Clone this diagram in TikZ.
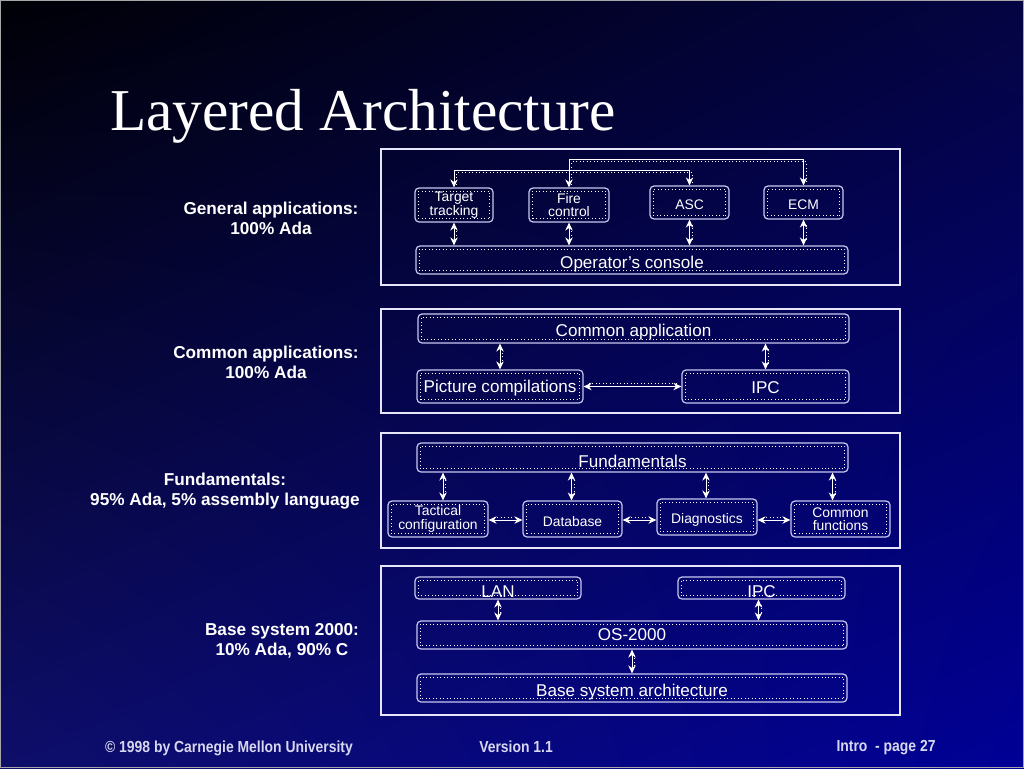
\documentclass[tikz,border=0pt]{standalone}
\usepackage{fontspec}
\setmainfont{Liberation Serif}
\setsansfont{Liberation Sans}
\usetikzlibrary{arrows.meta,calc,shadings}
\definecolor{bl}{RGB}{200,200,240}
\definecolor{pan}{RGB}{230,230,248}
\definecolor{ft}{RGB}{215,215,240}
\definecolor{bgul}{RGB}{0,0,6}
\definecolor{bgur}{RGB}{4,4,66}
\definecolor{bgll}{RGB}{14,14,106}
\definecolor{bglr}{RGB}{0,0,150}
\tikzset{
 bx/.style={draw=bl, line width=0.9pt, rounded corners=3pt, inner sep=0pt, text=white,
   font=\sffamily\fontsize{12.8}{13}\selectfont, align=center,
   path picture={\draw[white, dotted, line width=0.6pt, rounded corners=0pt]
     ([xshift=2.4pt,yshift=2.4pt]path picture bounding box.south west) rectangle
     ([xshift=-2.4pt,yshift=-2.4pt]path picture bounding box.north east);}},
 sm/.style={font=\sffamily\fontsize{10.4}{10}\selectfont},
 panel/.style={draw=pan, line width=0.9pt},
 arr/.style={draw=white, line width=0.75pt, {Stealth[length=6pt,width=5.6pt]}-{Stealth[length=6pt,width=5.6pt]}},
 vdot/.style={draw=white, dotted, line width=0.6pt, transform canvas={xshift=2pt}, shorten >=4pt, shorten <=4pt},
 hdot/.style={draw=white, dotted, line width=0.6pt, transform canvas={yshift=2pt}, shorten >=4pt, shorten <=4pt},
 cdot/.style={draw=white, dotted, line width=0.6pt, transform canvas={xshift=2pt,yshift=-2pt}, shorten >=4pt, shorten <=4pt},
 lab/.style={text=white, font=\sffamily\bfseries\fontsize{12.9}{15}\selectfont, align=center},
 foot/.style={text=ft, font=\sffamily\bfseries\fontsize{12}{13}\selectfont}
}
\newcommand\low[2]{\raisebox{-#1}[\height][\depth]{#2}}
\newcommand\mkbox[7][]{\node[bx,#1, minimum width={(#4-#2)*0.75pt}, minimum height={(#5-#3)*0.75pt}] (#6) at ({(#2+#4)/2},{(#3+#5)/2}) {#7};}
\newcommand\varr[2]{\draw[arr] #1 -- #2; \draw[vdot] #1 -- #2;}
\newcommand\harr[2]{\draw[arr] #1 -- #2; \draw[hdot] #1 -- #2;}
\begin{document}
\begin{tikzpicture}[x=0.75pt,y=-0.75pt]
\useasboundingbox (0,0) rectangle (1024,768);
\shade[upper left=bgul, upper right=bgur, lower left=bgll, lower right=bglr]
  (0,0) rectangle (1024,768);
\draw[gray!70, line width=0.8pt] (0.5,0.5) rectangle (1023.5,767.5);

% title
\node[anchor=base west, text=white, font=\fontsize{44.5}{48}\selectfont, inner sep=0pt] (title) at (110,130) {Layered Architecture};

% side labels
\node[lab] (l1) at (271,218) {General applications:\\100\% Ada};
\node[lab] (l2) at (266,362) {Common applications:\\100\% Ada};
\node[lab] (l3) at (225,491) {Fundamentals:\\95\% Ada, 5\% assembly language};
\node[lab] (l4) at (282,641) {Base system 2000:\\10\% Ada, 90\% C};

% panels
\draw[panel] (381,149) rectangle (900,285);
\draw[panel] (381,309) rectangle (900,413);
\draw[panel] (381,433) rectangle (900,548);
\draw[panel] (381,566) rectangle (900,715);

% panel 1
\mkbox[sm]{415}{188}{493}{222}{tt}{Target\\tracking}
\mkbox[sm]{529}{188}{609}{222}{fc}{Fire\\control}
\mkbox[sm]{650}{186}{729}{219}{asc}{\low{2pt}{ASC}}
\mkbox[sm]{764}{186}{843}{219}{ecm}{\low{2pt}{ECM}}
\mkbox{416}{246}{848}{274}{oc}{\low{3pt}{Operator’s console}}
\coordinate (h1) at (0,170);
\coordinate (h2) at (0,159);
\draw[arr] (tt.north) -- (tt.north |- h1) -- (asc.north |- h1) -- (asc.north);
\draw[cdot] (tt.north) -- (tt.north |- h1) -- (asc.north |- h1) -- (asc.north);
\draw[arr] (fc.north) -- (fc.north |- h2) -- (ecm.north |- h2) -- (ecm.north);
\draw[cdot] (fc.north) -- (fc.north |- h2) -- (ecm.north |- h2) -- (ecm.north);
\varr{(tt.south)}{(tt.south |- oc.north)}
\varr{(fc.south)}{(fc.south |- oc.north)}
\varr{(asc.south)}{(asc.south |- oc.north)}
\varr{(ecm.south)}{(ecm.south |- oc.north)}

% panel 2
\mkbox{418}{314}{849}{343}{ca}{\low{3pt}{Common application}}
\mkbox{417}{370}{583}{403}{pc}{\low{1pt}{Picture compilations}}
\mkbox{682}{370}{849}{403}{ipc}{\low{1pt}{IPC}}
\varr{(pc.north)}{(pc.north |- ca.south)}
\varr{(ipc.north)}{(ipc.north |- ca.south)}
\harr{(pc.east)}{(ipc.west)}

% panel 3
\coordinate (h3) at (0,520);
\mkbox{417}{443}{848}{472}{fu}{\low{3pt}{Fundamentals}}
\mkbox[sm]{388}{501}{488}{537}{tc}{Tactical\\configuration}
\mkbox[sm]{523}{501}{622}{537}{db}{\low{2pt}{Database}}
\mkbox[sm]{657}{499}{757}{535}{dg}{\low{2.5pt}{Diagnostics}}
\mkbox[sm]{791}{501}{890}{537}{cf}{Common\\functions}
\varr{($(tc.north)+(5,0)$)}{($(tc.north |- fu.south)+(5,0)$)}
\varr{($(db.north)+(-1,0)$)}{($(db.north |- fu.south)+(-1,0)$)}
\varr{($(dg.north)+(-1,0)$)}{($(dg.north |- fu.south)+(-1,0)$)}
\varr{($(cf.north)+(-8,0)$)}{($(cf.north |- fu.south)+(-8,0)$)}
\harr{(tc.east |- h3)}{(db.west |- h3)}
\harr{(db.east |- h3)}{(dg.west |- h3)}
\harr{(dg.east |- h3)}{(cf.west |- h3)}

% panel 4
\mkbox{415}{577}{581}{599}{lan}{\low{3pt}{LAN}}
\mkbox{678}{577}{845}{599}{ipcb}{\low{3pt}{IPC}}
\mkbox{417}{621}{847}{649}{os}{OS-2000}
\mkbox{417}{674}{847}{702}{bs}{\low{3pt}{Base system architecture}}
\varr{(lan.south)}{(lan.south |- os.north)}
\varr{($(ipcb.south)+(-3,0)$)}{($(ipcb.south |- os.north)+(-3,0)$)}
\varr{(os.south)}{(os.south |- bs.north)}

% footer
\node[foot] (f1) at (229,748) {\scalebox{0.87}[1]{© 1998 by Carnegie Mellon University}};
\node[foot] (f2) at (516,747) {\scalebox{0.87}[1]{Version 1.1}};
\node[foot] (f3) at (886,748) {\scalebox{0.87}[1]{Intro\ \ - page 27}};
\end{tikzpicture}
\end{document}
